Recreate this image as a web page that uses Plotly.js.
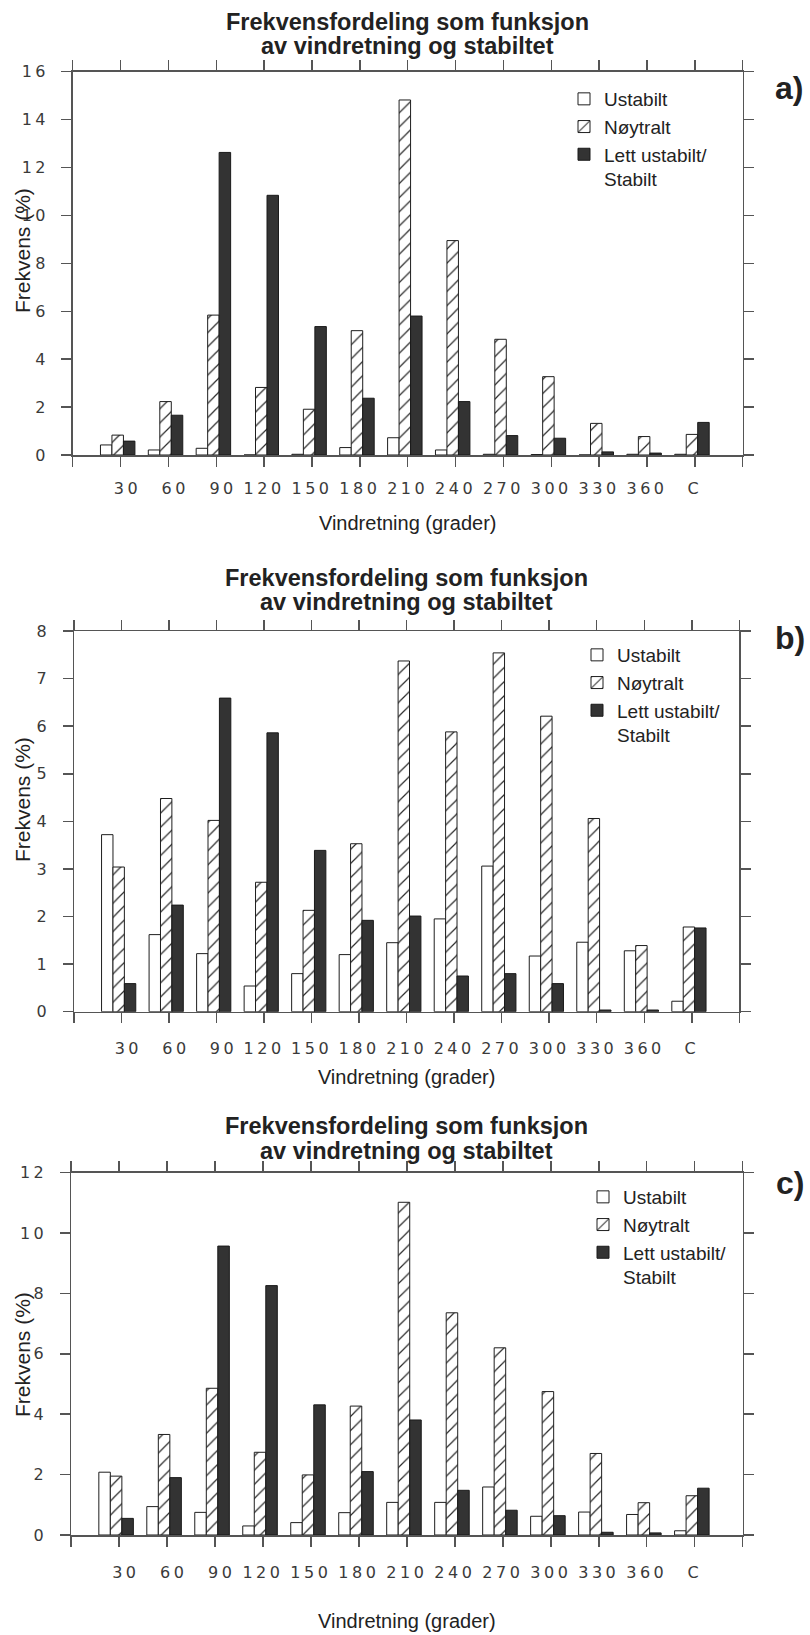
<!DOCTYPE html>
<html>
<head>
<meta charset="utf-8">
<script src="https://cdn.plot.ly/plotly-3.0.1.min.js"></script>
<style>
  html, body { margin: 0; padding: 0; background: #ffffff; }
  #chart { width: 810px; height: 1635px; }
  /* wide-spaced digits on every axis of the three panels */
  .xtick text, .x2tick text, .x3tick text,
  .ytick text, .y2tick text, .y3tick text { letter-spacing: 3.5px; }
</style>
</head>
<body>
<div id="chart"></div>
<script>
// Wind direction sectors (degrees) plus calm ("C")
const directions = ['30', '60', '90', '120', '150', '180', '210', '240', '270', '300', '330', '360', 'C'];

// Stability classes
const classNames = ['Ustabilt', 'Nøytralt', 'Lett ustabilt/<br>Stabilt'];

// Frequency (%) per sector – panel a)
const ustabiltA  = [0.42, 0.21, 0.28, 0.00, 0.03, 0.31, 0.72, 0.21, 0.03, 0.02, 0.00, 0.03, 0.03];
const noytraltA  = [0.83, 2.23, 5.84, 2.82, 1.91, 5.19, 14.82, 8.95, 4.83, 3.27, 1.32, 0.77, 0.86];
const stabiltA   = [0.58, 1.66, 12.63, 10.84, 5.36, 2.37, 5.80, 2.23, 0.81, 0.70, 0.13, 0.08, 1.36];

// Frequency (%) per sector – panel b)
const ustabiltB  = [3.72, 1.62, 1.22, 0.54, 0.80, 1.20, 1.45, 1.95, 3.06, 1.17, 1.46, 1.28, 0.22];
const noytraltB  = [3.04, 4.48, 4.02, 2.72, 2.13, 3.53, 7.37, 5.88, 7.54, 6.21, 4.06, 1.39, 1.78];
const stabiltB   = [0.59, 2.24, 6.59, 5.86, 3.39, 1.92, 2.01, 0.75, 0.80, 0.59, 0.035, 0.035, 1.76];

// Frequency (%) per sector – panel c)
const ustabiltC  = [2.08, 0.94, 0.75, 0.30, 0.41, 0.74, 1.08, 1.08, 1.59, 0.62, 0.76, 0.68, 0.14];
const noytraltC  = [1.95, 3.33, 4.86, 2.74, 1.99, 4.27, 11.02, 7.36, 6.20, 4.75, 2.70, 1.07, 1.30];
const stabiltC   = [0.55, 1.90, 9.57, 8.26, 4.31, 2.10, 3.81, 1.48, 0.82, 0.64, 0.09, 0.07, 1.55];

// Y tick settings per panel
const yMaxA = 16, yStepA = 2;
const yMaxB = 8,  yStepB = 1;
const yMaxC = 12, yStepC = 2;

const panelLetters = ['a)', 'b)', 'c)'];
const titleLine1 = 'Frekvensfordeling som funksjon';
const titleLine2 = 'av vindretning og stabiltet';
const xTitle = 'Vindretning (grader)';
const yTitle = 'Frekvens (%)';

// ---------------------------------------------------------------------------
const W = 810, H = 1635;
const px = v => v / W;
const py = v => 1 - v / H;

const SANS = 'Liberation Sans, Arial, Helvetica, sans-serif';
const TICKFONT = 'DejaVu Sans, Verdana, sans-serif';
const AXIS_GREY = '#555555';

// sector positions on a linear axis: 1..13, with empty end slots 0 and 14
const xPos = directions.map((_, i) => i + 1);
const tickVals = [0].concat(xPos, [directions.length + 1]);
const tickText = [''].concat(directions.map(d => d.length === 2 ? '\u2007' + d : d), ['']);

const barWidth = 0.24;
const barOffsets = [-0.42, -0.18, 0.06];
const markers = [
  { color: '#ffffff', line: { color: '#1e1e1e', width: 1 } },
  { color: '#ffffff', line: { color: '#1e1e1e', width: 1 },
    pattern: { shape: '/', fgcolor: '#2a2a2a', bgcolor: '#ffffff', size: 10, solidity: 0.12 } },
  { color: '#333333', line: { color: '#1a1a1a', width: 1 } }
];

function panelTraces(series, n) {
  const sfx = n === 1 ? '' : String(n);
  return series.map((vals, k) => ({
    type: 'bar',
    name: classNames[k],
    x: xPos,
    y: vals,
    width: barWidth,
    offset: barOffsets[k],
    marker: markers[k],
    xaxis: 'x' + sfx,
    yaxis: 'y' + sfx,
    legend: 'legend' + sfx,
    hoverinfo: 'skip'
  }));
}

const data = [].concat(
  panelTraces([ustabiltA, noytraltA, stabiltA], 1),
  panelTraces([ustabiltB, noytraltB, stabiltB], 2),
  panelTraces([ustabiltC, noytraltC, stabiltC], 3)
);

// plot-area boxes in pixels: [left, right, top, bottom]
const boxes = [
  [72.7, 742.7, 71.7, 455.0],
  [74.0, 739.3, 631.0, 1011.7],
  [71.0, 742.7, 1172.7, 1535.0]
];
const yMax = [yMaxA, yMaxB, yMaxC];
const yStep = [yStepA, yStepB, yStepC];
// gaps below each panel: [tick labels, axis title]
const xGaps = [[8, 19], [12, 12], [12, 33]];

const commonAxis = {
  showline: true, linecolor: AXIS_GREY, linewidth: 1.5,
  mirror: 'ticks', ticks: 'outside', ticklen: 10, tickwidth: 1.5, tickcolor: AXIS_GREY,
  showgrid: false, zeroline: false, fixedrange: true,
  tickfont: { family: TICKFONT, size: 16, color: '#3a3a3a' }
};

const layout = {
  width: W, height: H,
  margin: { l: 0, r: 0, t: 0, b: 0 },
  paper_bgcolor: '#ffffff', plot_bgcolor: '#ffffff',
  barmode: 'overlay',
  showlegend: true,
  hovermode: false,
  annotations: [],
  font: { family: SANS, color: '#222222' }
};

// legend anchor (left, top) in pixels
const legendPos = [[564, 80], [577, 636], [583, 1178]];

boxes.forEach((b, i) => {
  const sfx = i === 0 ? '' : String(i + 1);
  layout['xaxis' + sfx] = Object.assign({}, commonAxis, {
    domain: [px(b[0]), px(b[1])],
    anchor: 'y' + sfx,
    range: [0, directions.length + 1],
    tickmode: 'array', tickvals: tickVals, ticktext: tickText,
    ticklabelstandoff: xGaps[i][0],
    title: { text: xTitle, font: { family: SANS, size: 20, color: '#222222' }, standoff: xGaps[i][1] }
  });
  layout['yaxis' + sfx] = Object.assign({}, commonAxis, {
    domain: [py(b[3]), py(b[2])],
    anchor: 'x' + sfx,
    range: [0, yMax[i]],
    tick0: 0, dtick: yStep[i],
    ticklabelstandoff: 9
  });
  layout['legend' + sfx] = {
    x: px(legendPos[i][0]), y: py(legendPos[i][1]),
    xanchor: 'left', yanchor: 'top',
    bgcolor: 'rgba(0,0,0,0)', borderwidth: 0,
    font: { family: SANS, size: 19, color: '#222222' },
    valign: 'top', tracegroupgap: 0, itemwidth: 30
  };
});

// panel titles (two lines), y titles and panel letters
const titleMid = [[21.5, 45.5], [578, 602], [1126, 1150.5]];
const yTitleMid = [251, 800, 1355];
const letterMid = [[789, 88], [790, 638], [790, 1183]];
const plotCentre = boxes.map(b => (b[0] + b[1]) / 2);

boxes.forEach((b, i) => {
  [titleLine1, titleLine2].forEach((t, j) => {
    layout.annotations.push({
      text: '<b>' + t + '</b>', xref: 'paper', yref: 'paper',
      x: px(plotCentre[i]), y: py(titleMid[i][j]),
      xanchor: 'center', yanchor: 'middle', showarrow: false,
      font: { family: SANS, size: 23.5, color: '#222222' }
    });
  });
  layout.annotations.push({
    text: yTitle, xref: 'paper', yref: 'paper',
    x: px(22), y: py(yTitleMid[i]), textangle: -90,
    xanchor: 'center', yanchor: 'middle', showarrow: false,
    font: { family: SANS, size: 21, color: '#222222' }
  });
  layout.annotations.push({
    text: '<b>' + panelLetters[i] + '</b>', xref: 'paper', yref: 'paper',
    x: px(letterMid[i][0]), y: py(letterMid[i][1]),
    xanchor: 'center', yanchor: 'middle', showarrow: false,
    font: { family: SANS, size: 32, color: '#222222' }
  });
});

Plotly.newPlot('chart', data, layout, { staticPlot: true, displayModeBar: false });
</script>
</body>
</html>
